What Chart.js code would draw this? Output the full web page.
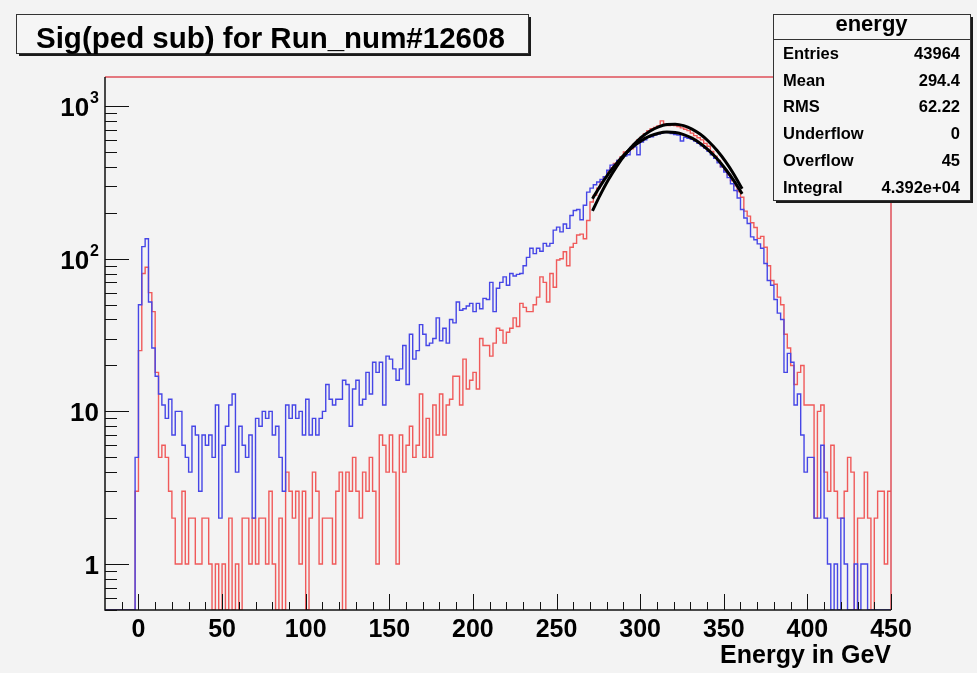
<!DOCTYPE html>
<html>
<head>
<meta charset="utf-8">
<script src="https://cdn.jsdelivr.net/npm/chart.js@4/dist/chart.umd.min.js"></script>
<style>
  html, body { margin: 0; padding: 0; background: #f3f3f3; }
  canvas { display: block; }
</style>
</head>
<body>
<canvas id="myChart" width="977" height="673"></canvas>
<script>
// histogram binning: 2 GeV bins from -20 to 450
var binLow = -20;
var binWidth = 2;
var yMin = 0.5;
var yMax = 1550;

// blue histogram, counts per bin (10 GeV per row)
var blueCounts = [
  0, 0, 0, 0, 0,        0, 0, 0, 0, 5,
  50, 120, 135, 52, 26, 17, 13, 11, 9, 12,
  7, 10, 10, 6, 5,      4, 8, 7, 3, 7,
  6, 7, 5, 11, 2,       6, 8, 11, 13, 4,
  8, 6, 5, 7, 2,        9, 8, 10, 9, 10,
  7, 8, 5, 3, 11,       9, 11, 9, 10, 7,
  12, 7, 9, 7, 9,       10, 15, 12, 11, 12,
  12, 16, 15, 8, 14,    16, 11, 12, 18, 13,
  21, 18, 21, 11, 23,   22, 19, 16, 19, 27,
  15, 32, 22, 25, 37,   32, 27, 28, 30, 41,
  29, 35, 28, 40, 38,   52, 46, 47, 49, 51,
  45, 51, 47, 55, 54,   70, 45, 64, 70, 76,
  67, 80, 77, 79, 80,   90, 102, 117, 108, 117,
  112, 126, 121, 126, 154, 161, 150, 169, 158, 192,
  207, 210, 180, 224, 273, 290, 305, 318, 330, 345,
  380, 410, 415, 440, 455, 470, 480, 535, 540, 480,
  580, 600, 625, 630, 645, 655, 665, 680, 670, 660,
  650, 645, 590, 625, 615, 605, 590, 570, 550, 530,
  505, 480, 455, 425, 400, 370, 340, 310, 280, 250,
  210, 185, 170, 139, 133, 125, 117, 93, 72, 67,
  54, 44, 40, 18, 24,   21, 11, 13, 7, 4,
  5, 5, 2, 2, 6,        2, 1, 0, 1, 0,
  2, 1, 0, 0, 1,        0, 1, 1, 0, 0,
  0, 0, 0, 0, 0
];

// red histogram, counts per bin
var redCounts = [
  0, 0, 0, 0, 0,        0, 0, 0, 0, 3,
  25, 80, 88, 60, 45,   18, 5, 6, 5, 3,
  2, 1, 1, 3, 1,        2, 2, 1, 1, 2,
  2, 1, 0, 1, 0,        1, 0, 2, 0, 1,
  0, 2, 2, 1, 2,        1, 2, 2, 1, 3,
  1, 0, 2, 0, 4,        3, 2, 3, 1, 3,
  0, 2, 4, 3, 1,        2, 2, 2, 1, 3,
  4, 0, 4, 3, 5,        3, 2, 4, 3, 5,
  3, 1, 7, 6, 4,        7, 4, 1, 7, 4,
  6, 8, 5, 6, 13,       5, 9, 5, 11, 7,
  13, 7, 11, 12, 17,    17, 11, 22, 14, 16,
  18, 14, 30, 27, 27,   23, 28, 35, 34, 28,
  33, 35, 41, 36, 51,   48, 45, 45, 50, 56,
  76, 70, 52, 80, 65,   98, 100, 111, 90, 119,
  126, 143, 145, 135, 178, 235, 260, 290, 320, 345,
  370, 395, 420, 440, 465, 500, 510, 525, 565, 600,
  625, 660, 690, 710, 725, 740, 800, 760, 745, 750,
  745, 735, 720, 705, 690, 665, 640, 620, 600, 570,
  545, 505, 470, 440, 400, 380, 355, 325, 300, 275,
  253, 205, 190, 172, 160, 136, 140, 119, 90, 72,
  68, 56, 50, 32, 26,   20, 15, 18, 20, 11,
  11, 11, 2, 10, 11,    4, 3, 6, 3, 2,
  2, 3, 5, 4, 0,        2, 2, 4, 2, 0,
  2, 3, 3, 1, 3
];

// gaussian fits
var fitX = [271.5, 276, 281, 286, 291, 296, 301, 306, 311, 316, 321, 326, 331, 336, 341, 346, 351, 356, 361];
var redFit = [206, 260, 329, 403, 481, 557, 628, 687, 731, 757, 761, 744, 707, 653, 586, 511, 434, 358, 287];
var blueFit = [247, 298, 360, 423, 486, 545, 596, 637, 664, 676, 671, 650, 616, 569, 512, 451, 387, 325, 266];

// axis ticks
var xTicks = [0, 50, 100, 150, 200, 250, 300, 350, 400, 450];
var yTicks = [1, 10, 100, 1000];
var yTickBase = ["1", "10", "10", "10"];
var yTickExp = ["", "", "2", "3"];

// stats box
var statNames = ["Entries", "Mean", "RMS", "Underflow", "Overflow", "Integral"];
var statValues = ["43964", "294.4", "62.22", "0", "45", "4.392e+04"];

var FONT = "'Liberation Sans', Arial, Helvetica, sans-serif";

// empty bins sit on the bottom of the log axis, like ROOT does
function histPoints(vals) {
  var pts = vals.map(function (v, i) {
    return { x: binLow + i * binWidth, y: v > 0 ? v : yMin };
  });
  var last = vals[vals.length - 1];
  pts.push({ x: binLow + vals.length * binWidth, y: last > 0 ? last : yMin });
  return pts;
}

function curvePoints(xs, ys) {
  return xs.map(function (x, i) { return { x: x, y: ys[i] }; });
}

function box(c, x, y, w, h) {
  c.fillStyle = "#1a1a1a";
  c.fillRect(x + 3, y + 3, w, h);
  c.fillStyle = "#f5f5f5";
  c.fillRect(x, y, w, h);
  c.strokeStyle = "#333";
  c.lineWidth = 1;
  c.strokeRect(x + 0.5, y + 0.5, w, h);
}

var rootPad = {
  id: "rootPad",
  beforeDraw: function (chart) {
    var c = chart.ctx;
    c.save();
    c.fillStyle = "#f3f3f3";
    c.fillRect(0, 0, chart.width, chart.height);
    c.restore();
  },
  afterDraw: function (chart) {
    var c = chart.ctx, a = chart.chartArea;
    var xs = chart.scales.x, ys = chart.scales.y;
    c.save();

    // frame: red top/right, black axes
    c.strokeStyle = "#e0505a";
    c.lineWidth = 1.5;
    c.beginPath();
    c.moveTo(a.left, a.top);
    c.lineTo(a.right, a.top);
    c.lineTo(a.right, a.bottom);
    c.stroke();
    c.strokeStyle = "#111";
    c.beginPath();
    c.moveTo(a.left, a.top);
    c.lineTo(a.left, a.bottom);
    c.lineTo(a.right, a.bottom);
    c.stroke();

    // x ticks, every 10, long every 50
    c.lineWidth = 1;
    c.beginPath();
    for (var v = -10; v <= 450; v += 10) {
      var px = Math.round(xs.getPixelForValue(v)) + 0.5;
      var len = v % 50 === 0 ? 16 : 8;
      c.moveTo(px, a.bottom);
      c.lineTo(px, a.bottom - len);
    }
    // y ticks, log minor ticks
    for (var d = 0.1; d < 2000; d *= 10) {
      for (var m = 1; m <= 9; m++) {
        var val = m * d;
        if (val < ys.min || val > ys.max) continue;
        var py = Math.round(ys.getPixelForValue(val)) + 0.5;
        c.moveTo(a.left, py);
        c.lineTo(a.left + (m === 1 ? 24 : 12), py);
      }
    }
    c.stroke();

    // x tick labels
    c.fillStyle = "#000";
    c.font = "bold 25px " + FONT;
    c.textAlign = "center";
    c.textBaseline = "alphabetic";
    xTicks.forEach(function (t) {
      c.fillText(String(t), xs.getPixelForValue(t), a.bottom + 27);
    });

    // y tick labels with exponents
    c.textAlign = "right";
    yTicks.forEach(function (t, i) {
      var py = ys.getPixelForValue(t);
      var right = a.left - 6;
      if (yTickExp[i]) {
        c.font = "bold 16px " + FONT;
        var ew = c.measureText(yTickExp[i]).width;
        c.fillText(yTickExp[i], right, py - 3);
        right -= ew + 1;
      }
      c.font = "bold 26px " + FONT;
      c.fillText(yTickBase[i], right, py + 10);
    });

    // axis title
    c.font = "bold 25px " + FONT;
    c.textAlign = "right";
    c.fillText("Energy in GeV", a.right, 663);

    // title box
    box(c, 16, 14, 512, 39);
    c.fillStyle = "#000";
    c.font = "bold 29.5px " + FONT;
    c.textAlign = "left";
    c.fillText("Sig(ped sub) for Run_num#12608", 36, 48);

    // stats box
    var sx = 773, sy = 14, sw = 197, sh = 186;
    box(c, sx, sy, sw, sh);
    c.fillStyle = "#000";
    c.font = "bold 22px " + FONT;
    c.textAlign = "center";
    c.fillText("energy", sx + sw / 2, 31);
    c.strokeStyle = "#333";
    c.beginPath();
    c.moveTo(sx, 39.5);
    c.lineTo(sx + sw, 39.5);
    c.stroke();
    c.font = "bold 16.5px " + FONT;
    statNames.forEach(function (n, i) {
      var by = 59 + i * 26.7;
      c.textAlign = "left";
      c.fillText(n, sx + 10, by);
      c.textAlign = "right";
      c.fillText(statValues[i], sx + sw - 10, by);
    });

    c.restore();
  }
};

var ctx = document.getElementById("myChart").getContext("2d");

var myChart = new Chart(ctx, {
  type: "line",
  data: {
    datasets: [
      {
        label: "fit red",
        data: curvePoints(fitX, redFit),
        borderColor: "#000",
        borderWidth: 3,
        pointRadius: 0,
        cubicInterpolationMode: "monotone",
        order: 0,
      },
      {
        label: "fit blue",
        data: curvePoints(fitX, blueFit),
        borderColor: "#000",
        borderWidth: 3,
        pointRadius: 0,
        cubicInterpolationMode: "monotone",
        order: 0,
      },
      {
        label: "blue",
        data: histPoints(blueCounts),
        borderColor: "#4646e6",
        borderWidth: 1.4,
        pointRadius: 0,
        stepped: true,
        order: 1,
      },
      {
        label: "red",
        data: histPoints(redCounts),
        borderColor: "#f05a5a",
        borderWidth: 1.4,
        pointRadius: 0,
        stepped: true,
        order: 2,
      },
    ],
  },
  options: {
    responsive: false,
    animation: false,
    events: [],
    layout: { padding: { left: 105, right: 86, top: 77, bottom: 63 } },
    plugins: {
      legend: { display: false },
      tooltip: { enabled: false },
    },
    scales: {
      x: { type: "linear", min: binLow, max: 450, display: false },
      y: { type: "logarithmic", min: yMin, max: yMax, display: false },
    },
  },
  plugins: [rootPad],
});
</script>
</body>
</html>
